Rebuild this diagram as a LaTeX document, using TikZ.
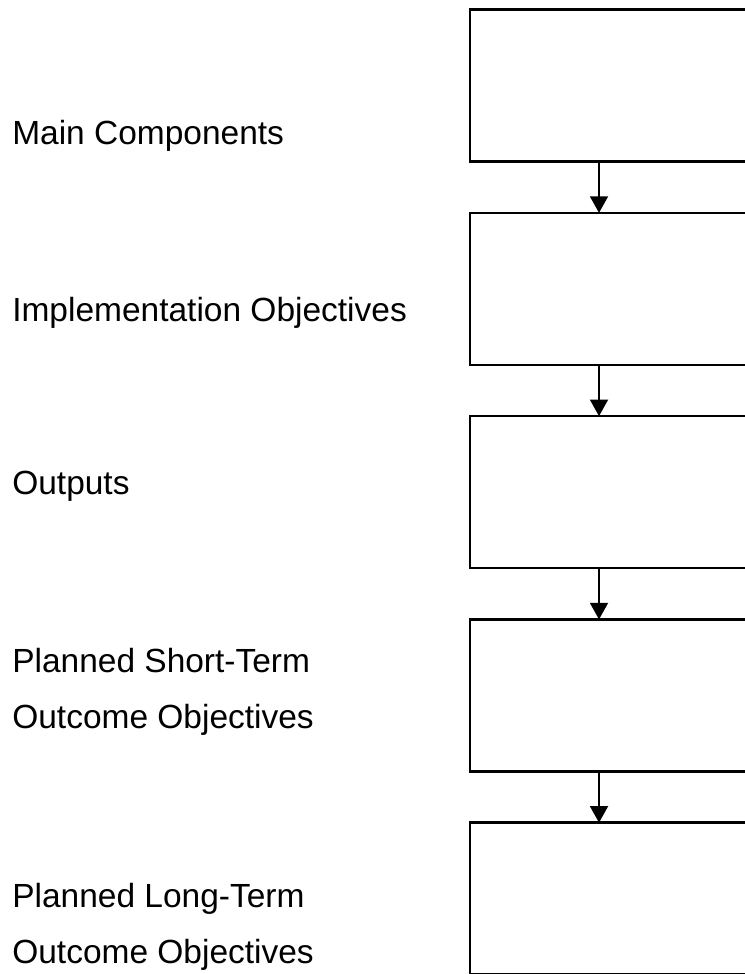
\documentclass[tikz,border=0pt]{standalone}
\usepackage{fontspec}
\setmainfont{Liberation Sans}
\usetikzlibrary{positioning,arrows.meta}

\begin{document}
\begin{tikzpicture}
\tikzstyle{box}=[draw,line width=1.9pt,minimum width=8.128cm,minimum height=3.861cm,inner sep=0pt,outer sep=0pt];
\tikzstyle{lbl}=[anchor=base west,inner sep=0pt,align=left,font=\fontsize{24.2}{40.3}\selectfont];

  \useasboundingbox (0,0) rectangle (18.923,24.74);
  \clip (0,0) rectangle (18.923,24.74);

  \node[box] (a) at (16.002,22.565) {};
  \node[box,below=1.302cm of a] (b) {};
  \node[box,below=1.302cm of b] (c) {};
  \node[box,below=1.302cm of c] (d) {};
  \node[box,below=1.302cm of d] (e) {};
  \coordinate (x) at (15.215,0);

  % two-line labels sit on the baseline of their last line
  \node[lbl] (la) at (0.305,21.057) {Main Components};
  \node[lbl] (lb) at (0.305,16.586) {Implementation Objectives};
  \node[lbl] (lc) at (0.305,12.167) {Outputs};
  \node[lbl] (ld) at (0.305,6.248) {Planned Short-Term\\Outcome Objectives};
  \node[lbl] (le) at (0.305,0.279) {Planned Long-Term\\Outcome Objectives};

  \foreach \from/\to in {a/b, b/c, c/d, d/e}
\draw [-{Triangle[width=13pt,length=12pt]},line width=1.4pt] (\from.south -| x) -- (\to.north -| x);

\end{tikzpicture}
\end{document}
